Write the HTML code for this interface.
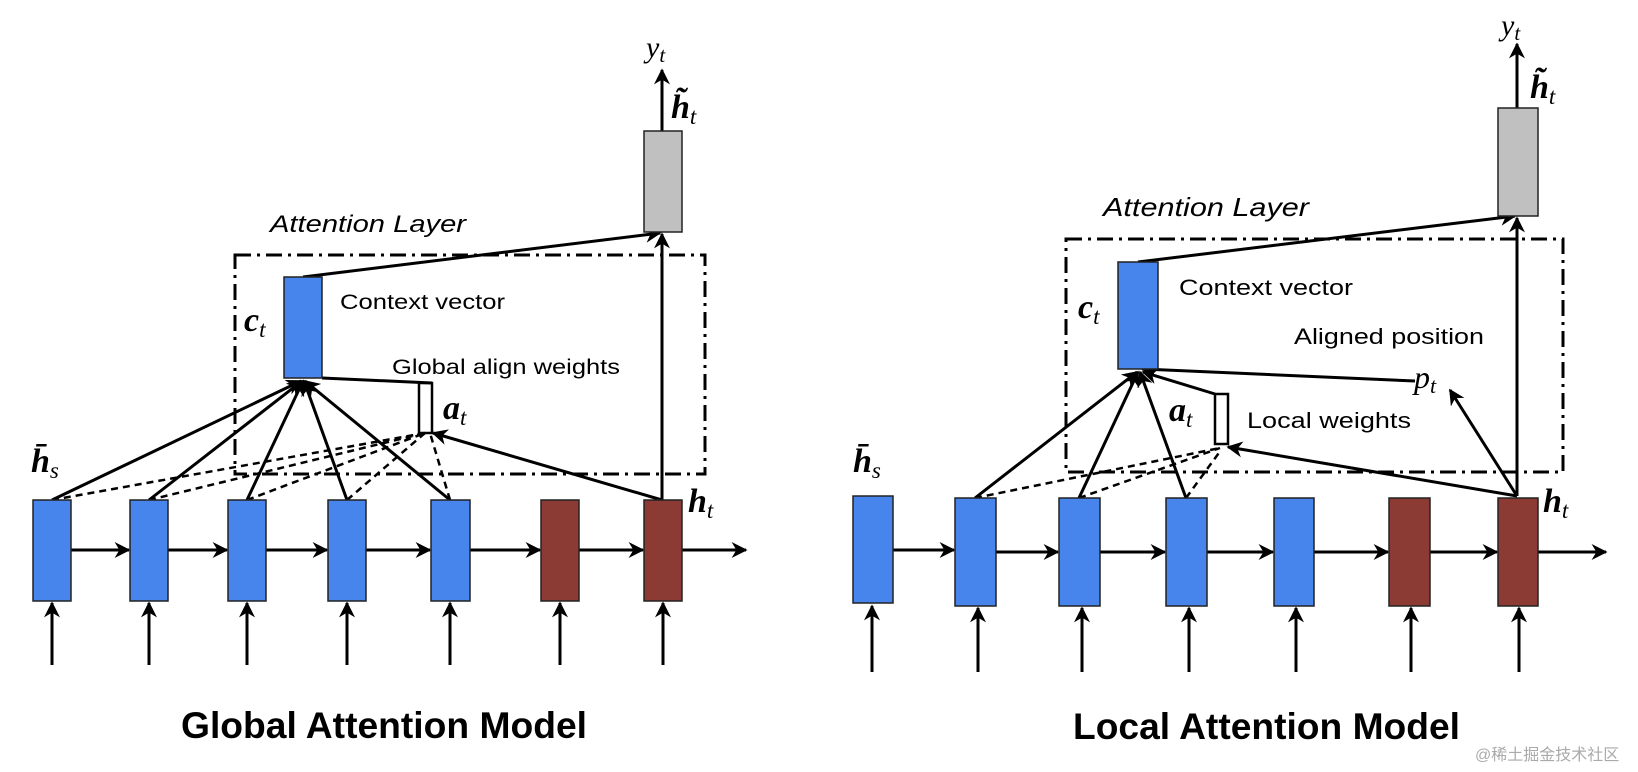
<!DOCTYPE html>
<html><head><meta charset="utf-8"><style>
html,body{margin:0;padding:0;background:#fff}
svg{display:block}
.t{font-family:"Liberation Sans",sans-serif;fill:#000}
.m{font-family:"Liberation Serif",serif;font-style:italic;fill:#000}
</style></head><body>
<svg width="1638" height="772" viewBox="0 0 1638 772" xmlns="http://www.w3.org/2000/svg">
<defs>
<marker id="b" viewBox="0 0 10 10" refX="9" refY="5" markerWidth="16" markerHeight="16" markerUnits="userSpaceOnUse" orient="auto"><path d="M0,0 L10,5 L0,10 L3,5 z" fill="#000"/></marker>
</defs>
<g stroke="#000" stroke-width="3" fill="none">
<rect x="235" y="255" width="470" height="219" stroke-dasharray="16 6 3 6"/>
<g stroke-dasharray="7 5" stroke-width="2.5">
<line x1="52" y1="500" x2="425" y2="433"/>
<line x1="149" y1="500" x2="425" y2="433"/>
<line x1="247" y1="500" x2="425" y2="433"/>
<line x1="347" y1="500" x2="425" y2="433"/>
<line x1="450" y1="500" x2="430" y2="433"/>
</g>
<g marker-end="url(#b)">
<line x1="52" y1="500" x2="301" y2="381"/>
<line x1="149" y1="500" x2="302" y2="381"/>
<line x1="247" y1="500" x2="303" y2="381"/>
<line x1="347" y1="500" x2="304" y2="381"/>
<line x1="450" y1="500" x2="305" y2="381"/>
<line x1="662" y1="500" x2="433" y2="433"/>
<line x1="662" y1="500" x2="662" y2="234"/>
<line x1="303" y1="277" x2="660" y2="233"/>
<line x1="662" y1="131" x2="662" y2="70"/>
</g>
<line x1="322" y1="378" x2="432" y2="383"/>
<rect x="419" y="383" width="13" height="50" stroke-width="2.5"/>
<g marker-end="url(#b)">
<line x1="52" y1="665" x2="52" y2="603"/><line x1="149" y1="665" x2="149" y2="603"/>
<line x1="247" y1="665" x2="247" y2="603"/><line x1="347" y1="665" x2="347" y2="603"/>
<line x1="450" y1="665" x2="450" y2="603"/><line x1="560" y1="665" x2="560" y2="603"/>
<line x1="663" y1="665" x2="663" y2="603"/>
<line x1="71" y1="550" x2="129" y2="550"/><line x1="168" y1="550" x2="227" y2="550"/>
<line x1="266" y1="550" x2="327" y2="550"/><line x1="366" y1="550" x2="430" y2="550"/>
<line x1="470" y1="550" x2="540" y2="550"/><line x1="579" y1="550" x2="643" y2="550"/>
<line x1="682" y1="550" x2="746" y2="550"/>
</g>
</g>
<g stroke="#222" stroke-width="1.5">
<rect x="33" y="500" width="38" height="101" fill="#4785ed"/>
<rect x="130" y="500" width="38" height="101" fill="#4785ed"/>
<rect x="228" y="500" width="38" height="101" fill="#4785ed"/>
<rect x="328" y="500" width="38" height="101" fill="#4785ed"/>
<rect x="431" y="500" width="39" height="101" fill="#4785ed"/>
<rect x="541" y="500" width="38" height="101" fill="#8b3a34"/>
<rect x="644" y="500" width="38" height="101" fill="#8b3a34"/>
<rect x="644" y="131" width="38" height="101" fill="#c0c0c0"/>
<rect x="284" y="277" width="38" height="101" fill="#4785ed"/>
</g>
<text class="m" x="646" y="57" font-size="30">y<tspan font-size="21" dy="5">t</tspan></text>
<text class="m" x="671" y="118" font-size="34" font-weight="bold">h̃<tspan font-size="23" dy="6" font-weight="normal">t</tspan></text>
<text class="m" x="688" y="512" font-size="34" font-weight="bold">h<tspan font-size="23" dy="6" font-weight="normal">t</tspan></text>
<text class="m" x="31" y="472" font-size="34" font-weight="bold">h̄<tspan font-size="23" dy="6" font-weight="normal">s</tspan></text>
<text class="m" x="244" y="331" font-size="34" font-weight="bold">c<tspan font-size="23" dy="6" font-weight="normal">t</tspan></text>
<text class="m" x="443" y="419" font-size="34" font-weight="bold">a<tspan font-size="23" dy="6" font-weight="normal">t</tspan></text>
<text class="t" x="270" y="232" font-size="24" font-style="italic" textLength="196" lengthAdjust="spacingAndGlyphs">Attention Layer</text>
<text class="t" x="340" y="309" font-size="21" textLength="165" lengthAdjust="spacingAndGlyphs">Context vector</text>
<text class="t" x="392" y="374" font-size="21" textLength="228" lengthAdjust="spacingAndGlyphs">Global align weights</text>
<text class="t" x="181" y="738" font-size="37" font-weight="bold" textLength="406" lengthAdjust="spacingAndGlyphs">Global Attention Model</text>

<g stroke="#000" stroke-width="3" fill="none">
<rect x="1066" y="239" width="497" height="233" stroke-dasharray="16 6 3 6"/>
<g stroke-dasharray="7 5" stroke-width="2.5">
<line x1="975" y1="498" x2="1220" y2="448"/>
<line x1="1079" y1="498" x2="1220" y2="448"/>
<line x1="1186" y1="498" x2="1221" y2="450"/>
</g>
<g marker-end="url(#b)">
<line x1="975" y1="498" x2="1137" y2="372"/>
<line x1="1079" y1="498" x2="1138" y2="372"/>
<line x1="1186" y1="498" x2="1140" y2="372"/>
<line x1="1517" y1="496" x2="1228" y2="447"/>
<line x1="1517" y1="496" x2="1450" y2="390"/>
<line x1="1517" y1="496" x2="1517" y2="218"/>
<line x1="1138" y1="262" x2="1515" y2="216"/>
<line x1="1517" y1="108" x2="1517" y2="44"/>
<line x1="1415" y1="381" x2="1142" y2="369"/>
<line x1="1215" y1="394" x2="1143" y2="372"/>
</g>
<rect x="1215" y="394" width="13" height="50" stroke-width="2.5"/>
<g marker-end="url(#b)">
<line x1="872" y1="672" x2="872" y2="606"/><line x1="978" y1="672" x2="978" y2="608"/>
<line x1="1082" y1="672" x2="1082" y2="608"/><line x1="1189" y1="672" x2="1189" y2="608"/>
<line x1="1296" y1="672" x2="1296" y2="608"/><line x1="1411" y1="672" x2="1411" y2="608"/>
<line x1="1519" y1="672" x2="1519" y2="608"/>
<line x1="893" y1="550" x2="954" y2="550"/><line x1="996" y1="552" x2="1058" y2="552"/>
<line x1="1100" y1="552" x2="1165" y2="552"/><line x1="1207" y1="552" x2="1273" y2="552"/>
<line x1="1314" y1="552" x2="1388" y2="552"/><line x1="1430" y1="552" x2="1497" y2="552"/>
<line x1="1538" y1="552" x2="1606" y2="552"/>
</g>
</g>
<g stroke="#222" stroke-width="1.5">
<rect x="853" y="496" width="40" height="107" fill="#4785ed"/>
<rect x="955" y="498" width="41" height="108" fill="#4785ed"/>
<rect x="1059" y="498" width="41" height="108" fill="#4785ed"/>
<rect x="1166" y="498" width="41" height="108" fill="#4785ed"/>
<rect x="1274" y="498" width="40" height="108" fill="#4785ed"/>
<rect x="1389" y="498" width="41" height="108" fill="#8b3a34"/>
<rect x="1498" y="498" width="40" height="108" fill="#8b3a34"/>
<rect x="1498" y="108" width="40" height="108" fill="#c0c0c0"/>
<rect x="1118" y="262" width="40" height="107" fill="#4785ed"/>
</g>
<text class="m" x="1501" y="35" font-size="30">y<tspan font-size="21" dy="5">t</tspan></text>
<text class="m" x="1530" y="98" font-size="34" font-weight="bold">h̃<tspan font-size="23" dy="6" font-weight="normal">t</tspan></text>
<text class="m" x="1543" y="512" font-size="34" font-weight="bold">h<tspan font-size="23" dy="6" font-weight="normal">t</tspan></text>
<text class="m" x="853" y="472" font-size="34" font-weight="bold">h̄<tspan font-size="23" dy="6" font-weight="normal">s</tspan></text>
<text class="m" x="1078" y="318" font-size="34" font-weight="bold">c<tspan font-size="23" dy="6" font-weight="normal">t</tspan></text>
<text class="m" x="1169" y="421" font-size="34" font-weight="bold">a<tspan font-size="23" dy="6" font-weight="normal">t</tspan></text>
<text class="m" x="1414" y="388" font-size="32">p<tspan font-size="22" dy="5">t</tspan></text>
<text class="t" x="1103" y="216" font-size="26" font-style="italic" textLength="206" lengthAdjust="spacingAndGlyphs">Attention Layer</text>
<text class="t" x="1179" y="295" font-size="22" textLength="174" lengthAdjust="spacingAndGlyphs">Context vector</text>
<text class="t" x="1294" y="344" font-size="22" textLength="190" lengthAdjust="spacingAndGlyphs">Aligned position</text>
<text class="t" x="1247" y="428" font-size="22" textLength="164" lengthAdjust="spacingAndGlyphs">Local weights</text>
<text class="t" x="1073" y="739" font-size="37" font-weight="bold" textLength="387" lengthAdjust="spacingAndGlyphs">Local Attention Model</text>
<text x="1475" y="760" font-size="16" fill="#aaa" font-family="'Liberation Sans','Noto Sans CJK SC',sans-serif">@稀土掘金技术社区</text>
</svg>
</body></html>
